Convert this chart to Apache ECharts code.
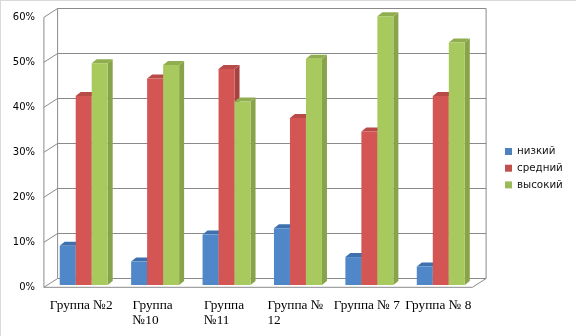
<!DOCTYPE html>
<html>
<head>
<meta charset="utf-8">
<script src="https://cdn.jsdelivr.net/npm/echarts@6/dist/echarts.min.js"></script>
<style>
  html, body { margin: 0; padding: 0; background: #fff; }
  #chart { width: 576px; height: 336px; }
</style>
</head>
<body>
<div id="chart"></div>
<script>
// Group names as they appear under the axis (wrapped lines)
const groups = ['Группа №2', 'Группа\n№10', 'Группа\n№11', 'Группа №\n12', 'Группа № 7', 'Группа № 8'];
// Share of pupils per level, %
const seriesNames = ['низкий', 'средний', 'высокий'];
const lowLevel  = [8.7, 5.2, 11.2, 12.6, 6.2, 4.1];
const midLevel  = [42, 45.9, 48, 37.1, 34.1, 42];
const highLevel = [49.3, 48.9, 40.8, 50.3, 59.7, 53.9];
// Value axis ticks, %
const valueTicks = [0, 10, 20, 30, 40, 50, 60];

// Face colours: front, top, side
const palette = [
  { legend: '#4f81bd', front: '#4f87c8', top: '#3e70ae', side: '#3a67a0' },
  { legend: '#c0504d', front: '#d35554', top: '#b84a47', side: '#a6423f' },
  { legend: '#9bbb59', front: '#a8c95e', top: '#90ae4f', side: '#88a44a' }
];

// Pseudo-3D depth: offsets from the bar plane to the back wall and to the front edge
const BACK = [10.1, -6.5];
const FRONT = [-3.6, 2.3];
const BAR_DEPTH = [5, -4];
const BAR_RATIO = 0.224;
const WALL_COLOR = '#8a8a8a';

function barRenderer(slot, colors) {
  return function (params, api) {
    const cat = api.value(0);
    const val = api.value(1);
    const base = api.coord([cat, 0]);
    const topPt = api.coord([cat, val]);
    const band = api.size([1, 0])[0];
    const w = band * BAR_RATIO;
    const x0 = base[0] - 1.5 * w + slot * w + 0.5;
    const x1 = x0 + w;
    const yb = base[1];
    const yt = topPt[1];
    const dx = BAR_DEPTH[0], dy = BAR_DEPTH[1];
    return {
      type: 'group',
      children: [
        { type: 'polygon', shape: { points: [[x1, yt], [x1 + dx, yt + dy], [x1 + dx, yb + dy], [x1, yb]] },
          style: { fill: colors.side } },
        { type: 'polygon', shape: { points: [[x0, yt], [x1, yt], [x1 + dx, yt + dy], [x0 + dx, yt + dy]] },
          style: { fill: colors.top } },
        { type: 'rect', shape: { x: x0, y: yt, width: w, height: yb - yt },
          style: { fill: colors.front } }
      ]
    };
  };
}

function wallRenderer(params, api) {
  const v = api.value(1);
  const band = api.size([1, 0])[0];
  const left = api.coord([0, v])[0] - band / 2;
  const right = api.coord([groups.length - 1, v])[0] + band / 2;
  const y = api.coord([0, v])[1];
  const line = (a, b) => ({
    type: 'line',
    shape: { x1: a[0], y1: a[1], x2: b[0], y2: b[1] },
    style: { stroke: WALL_COLOR, lineWidth: 1 }
  });
  const children = [
    line([left + BACK[0], y + BACK[1]], [right + BACK[0], y + BACK[1]]),
    line([left + FRONT[0], y + FRONT[1]], [left + BACK[0], y + BACK[1]])
  ];
  if (params.dataIndex === 0) {
    const yTop = api.coord([0, valueTicks[valueTicks.length - 1]])[1];
    children.push(
      line([left + FRONT[0], y + FRONT[1]], [right + FRONT[0], y + FRONT[1]]),
      line([right + FRONT[0], y + FRONT[1]], [right + BACK[0], y + BACK[1]]),
      line([left + FRONT[0], y + FRONT[1]], [left + FRONT[0], yTop + FRONT[1]]),
      line([left + BACK[0], y + BACK[1]], [left + BACK[0], yTop + BACK[1]]),
      line([right + BACK[0], y + BACK[1]], [right + BACK[0], yTop + BACK[1]])
    );
  }
  return { type: 'group', children: children };
}

// Category labels: lines left-aligned inside a centred block, always two rows tall
function groupLabel(v) {
  const lines = v.split('\n');
  while (lines.length < 2) lines.push(' ');
  return lines.map(s => '{t|' + s + '}').join('\n');
}

const levels = [lowLevel, midLevel, highLevel];

const chart = echarts.init(document.getElementById('chart'), null, { renderer: 'canvas' });
chart.setOption({
  animation: false,
  backgroundColor: '#ffffff',
  color: palette.map(p => p.legend),
  grid: { left: 47.5, right: 100, top: 15, bottom: 51, containLabel: false },
  legend: {
    orient: 'vertical',
    left: 505,
    top: 145.5,
    padding: 0,
    itemWidth: 7,
    itemHeight: 7,
    itemGap: 4.7,
    icon: 'rect',
    textStyle: { fontFamily: 'DejaVu Sans', fontSize: 10.3, color: '#111', lineHeight: 12 },
    data: seriesNames
  },
  xAxis: {
    type: 'category',
    data: groups,
    axisLine: { show: false },
    axisTick: { show: false },
    splitLine: { show: false },
    axisLabel: {
      interval: 0,
      margin: 13.5,
      verticalAlign: 'top',
      lineHeight: 15,
      padding: [0, 4, 0, 0],
      formatter: groupLabel,
      rich: {
        t: { align: 'left', fontFamily: '"Liberation Serif", serif', fontSize: 13.3, lineHeight: 15, color: '#000' }
      }
    }
  },
  yAxis: {
    type: 'value',
    min: valueTicks[0],
    max: valueTicks[valueTicks.length - 1],
    interval: 10,
    axisLine: { show: false },
    axisTick: { show: false },
    splitLine: { show: false },
    axisLabel: {
      margin: 12.5,
      verticalAlign: 'top',
      lineHeight: 5.5,
      fontFamily: 'DejaVu Sans',
      fontSize: 10,
      color: '#000',
      formatter: '{value}%'
    }
  },
  graphic: [
    { type: 'line', shape: { x1: 0, y1: 0.5, x2: 576, y2: 0.5 }, style: { stroke: '#d9d9d9', lineWidth: 1 } },
    { type: 'line', shape: { x1: 0.5, y1: 0, x2: 0.5, y2: 336 }, style: { stroke: '#d9d9d9', lineWidth: 1 } }
  ],
  series: [
    {
      type: 'custom',
      name: 'wall',
      silent: true,
      clip: false,
      z: 1,
      renderItem: wallRenderer,
      encode: { x: 0, y: 1 },
      data: valueTicks.map(v => [0, v])
    }
  ].concat(levels.map((vals, k) => ({
    type: 'custom',
    name: seriesNames[k],
    clip: false,
    z: 2 + k,
    itemStyle: { color: palette[k].legend },
    renderItem: barRenderer(k, palette[k]),
    encode: { x: 0, y: 1 },
    data: vals.map((v, i) => [i, v])
  })))
});
</script>
</body>
</html>
